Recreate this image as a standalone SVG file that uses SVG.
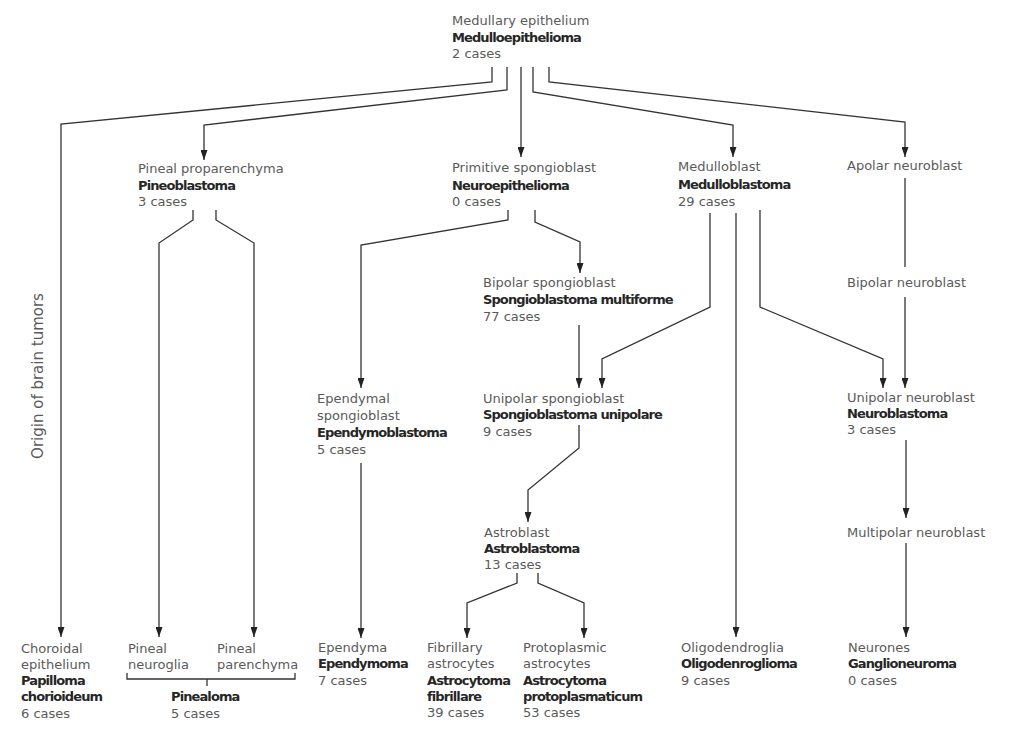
<svg xmlns="http://www.w3.org/2000/svg" width="1024" height="732" viewBox="0 0 1024 732">
<style>
text{font-family:"DejaVu Sans","Liberation Sans",sans-serif;font-size:13px;fill:#5a5a5a}
.b{font-weight:bold;fill:#262626;letter-spacing:-0.9px}
.c path{fill:none;stroke:#333;stroke-width:1.3}
.a{marker-end:url(#ah)}
</style>
<defs>
<marker id="ah" markerWidth="10" markerHeight="7" refX="10" refY="3.5" orient="auto" markerUnits="userSpaceOnUse">
<path d="M0,0 L10,3.5 L0,7 z" fill="#222"/>
</marker>
</defs>
<rect width="1024" height="732" fill="#fff"/>
<g class="c" id="connectors">
<path class="a" d="M492,67 V82 L61,124 V637"/>
<path class="a" d="M507,67 V90 L204,125 V160"/>
<path class="a" d="M521,67 V157"/>
<path class="a" d="M533,67 V92 L733,125 V157"/>
<path class="a" d="M549,67 V82 L905,122 V157"/>
<path class="a" d="M193,210 V220 L159,243 V637"/>
<path class="a" d="M216,210 V220 L254,243 V637"/>
<path class="a" d="M508,210 V220 L361,245 V388"/>
<path class="a" d="M535,210 V222 L580,242 V273"/>
<path class="a" d="M710,213 V307 L602,359 V388"/>
<path class="a" d="M736,213 V637"/>
<path class="a" d="M760,210 V307 L883,359 V388"/>
<path class="a" d="M579,325 V388"/>
<path class="a" d="M361,463 V638"/>
<path class="a" d="M579,425 V448 L528,490 V522"/>
<path class="a" d="M517,573 V583 L467,603 V638"/>
<path class="a" d="M538,573 V583 L584,603 V638"/>
<path d="M905,178 V267"/>
<path class="a" d="M905,297 V388"/>
<path class="a" d="M906,440 V518"/>
<path class="a" d="M906,543 V637"/>
<path d="M127,673 V679 H295 V673 M207,679 V686"/>
</g>
<g id="medulloepithelioma"><text x="452" y="25">Medullary epithelium</text><text class="b" x="452" y="42">Medulloepithelioma</text><text x="452" y="58">2 cases</text></g>
<g id="pineoblastoma"><text x="138" y="173">Pineal proparenchyma</text><text class="b" x="138" y="190">Pineoblastoma</text><text x="138" y="206">3 cases</text></g>
<g id="neuroepithelioma"><text x="452" y="172">Primitive spongioblast</text><text class="b" x="452" y="190">Neuroepithelioma</text><text x="452" y="206">0 cases</text></g>
<g id="medulloblastoma"><text x="678" y="171">Medulloblast</text><text class="b" x="678" y="189">Medulloblastoma</text><text x="678" y="206">29 cases</text></g>
<g id="apolar"><text x="847" y="170">Apolar neuroblast</text></g>
<g id="bipolar-neuroblast"><text x="847" y="287">Bipolar neuroblast</text></g>
<g id="spongioblastoma-multiforme"><text x="483" y="287">Bipolar spongioblast</text><text class="b" x="483" y="304">Spongioblastoma multiforme</text><text x="483" y="321">77 cases</text></g>
<g id="ependymoblastoma"><text x="317" y="403">Ependymal</text><text x="317" y="420">spongioblast</text><text class="b" x="317" y="437">Ependymoblastoma</text><text x="317" y="454">5 cases</text></g>
<g id="spongioblastoma-unipolare"><text x="483" y="403">Unipolar spongioblast</text><text class="b" x="483" y="419">Spongioblastoma unipolare</text><text x="483" y="436">9 cases</text></g>
<g id="neuroblastoma"><text x="847" y="402">Unipolar neuroblast</text><text class="b" x="847" y="418">Neuroblastoma</text><text x="847" y="434">3 cases</text></g>
<g id="astroblastoma"><text x="484" y="537">Astroblast</text><text class="b" x="484" y="553">Astroblastoma</text><text x="484" y="569">13 cases</text></g>
<g id="multipolar"><text x="847" y="537">Multipolar neuroblast</text></g>
<g id="papilloma"><text x="21" y="653">Choroidal</text><text x="21" y="669">epithelium</text><text class="b" x="21" y="685">Papilloma</text><text class="b" x="21" y="701">chorioideum</text><text x="21" y="718">6 cases</text></g>
<g id="pineal-neuroglia"><text x="128" y="653">Pineal</text><text x="128" y="669">neuroglia</text></g>
<g id="pineal-parenchyma"><text x="217" y="653">Pineal</text><text x="217" y="669">parenchyma</text></g>
<g id="pinealoma"><text class="b" x="171" y="701">Pinealoma</text><text x="171" y="718">5 cases</text></g>
<g id="ependymoma"><text x="318" y="652">Ependyma</text><text class="b" x="318" y="668">Ependymoma</text><text x="318" y="685">7 cases</text></g>
<g id="astrocytoma-fibrillare"><text x="427" y="652">Fibrillary</text><text x="427" y="668">astrocytes</text><text class="b" x="427" y="685">Astrocytoma</text><text class="b" x="427" y="701">fibrillare</text><text x="427" y="717">39 cases</text></g>
<g id="astrocytoma-protoplasmaticum"><text x="523" y="652">Protoplasmic</text><text x="523" y="668">astrocytes</text><text class="b" x="523" y="685">Astrocytoma</text><text class="b" x="523" y="701">protoplasmaticum</text><text x="523" y="717">53 cases</text></g>
<g id="oligodendroglioma"><text x="681" y="652">Oligodendroglia</text><text class="b" x="681" y="668">Oligodenroglioma</text><text x="681" y="685">9 cases</text></g>
<g id="ganglioneuroma"><text x="848" y="652">Neurones</text><text class="b" x="848" y="668">Ganglioneuroma</text><text x="848" y="685">0 cases</text></g>
<text x="38" y="376" transform="rotate(-90 38 376)" text-anchor="middle" dominant-baseline="middle" style="font-size:15px">Origin of brain tumors</text>
</svg>
